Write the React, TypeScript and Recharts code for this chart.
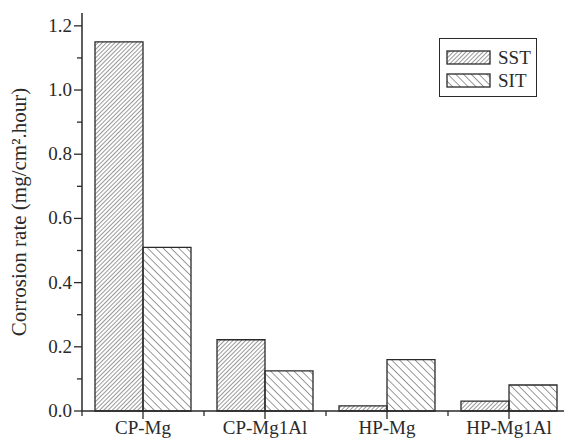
import { BarChart, Bar, XAxis, YAxis } from "recharts";

const SAMPLES = ["CP-Mg", "CP-Mg1Al", "HP-Mg", "HP-Mg1Al"];
const SST = [1.15, 0.222, 0.016, 0.031];
const SIT = [0.51, 0.125, 0.16, 0.081];
const Y_TICKS = [0, 0.1, 0.2, 0.3, 0.4, 0.5, 0.6, 0.7, 0.8, 0.9, 1.0, 1.1, 1.2];
const Y_LABELED = [0, 0.2, 0.4, 0.6, 0.8, 1.0, 1.2];

const FONT = "'Liberation Serif', 'Times New Roman', serif";
const INK = "#2a2a2a";

const data = SAMPLES.map((name, i) => ({ name, SST: SST[i], SIT: SIT[i] }));

function YTick({ x, y, payload }: any) {
  const major = Y_LABELED.some((v) => Math.abs(v - payload.value) < 1e-6);
  return (
    <g>
      <line x1={x - (major ? 8 : 5)} x2={x} y1={y} y2={y} stroke={INK} strokeWidth={1.3} />
      {major && (
        <text x={x - 10} y={y} dy={6} textAnchor="end" fill={INK} fontSize={19} fontFamily={FONT}>
          {payload.value.toFixed(1)}
        </text>
      )}
    </g>
  );
}

function XTick({ x, y, payload }: any) {
  const half = payload.offset ?? 61;
  return (
    <g>
      <line x1={x} x2={x} y1={y} y2={y + 8} stroke={INK} strokeWidth={1.3} />
      <line x1={x - half} x2={x - half} y1={y} y2={y + 5} stroke={INK} strokeWidth={1.3} />
      <text x={x} y={y + 23} textAnchor="middle" fill={INK} fontSize={19} fontFamily={FONT}>
        {payload.value}
      </text>
    </g>
  );
}

// hatched legend box in the upper right of the plot
function HatchLegend() {
  const items = [
    { label: "SST", fill: "url(#hatchSST)" },
    { label: "SIT", fill: "url(#hatchSIT)" },
  ];
  return (
    <div
      style={{
        position: "absolute",
        left: 439,
        top: 38,
        border: `1.5px solid ${INK}`,
        width: 98,
        height: 59,
        boxSizing: "border-box",
        padding: "7px 0 0 6px",
        fontFamily: FONT,
        fontSize: 19,
        color: INK,
        background: "#fff",
      }}
    >
      {items.map((it) => (
        <div key={it.label} style={{ display: "flex", alignItems: "center", height: 23 }}>
          <svg width={46} height={15} style={{ display: "block" }}>
            <rect x={1} y={1} width={43} height={13} fill={it.fill} stroke={INK} strokeWidth={1.3} />
          </svg>
          <span style={{ marginLeft: 6, lineHeight: "19px" }}>{it.label}</span>
        </div>
      ))}
    </div>
  );
}

export default function App() {
  return (
    <div style={{ position: "absolute", left: 0, top: 0, width: 564, height: 439, overflow: "hidden", background: "#fff" }}>
      <BarChart
        width={575}
        height={439}
        data={data}
        margin={{ top: 13, right: 5, bottom: 0, left: 0 }}
        barCategoryGap={13}
        barGap={0}
      >
        <defs>
          <pattern id="hatchSST" patternUnits="userSpaceOnUse" width={3} height={3} patternTransform="rotate(45)">
            <line x1={0} y1={0} x2={0} y2={3} stroke="#333" strokeWidth={1} />
          </pattern>
          <pattern id="hatchSIT" patternUnits="userSpaceOnUse" width={5.5} height={5.5} patternTransform="rotate(-45)">
            <line x1={0} y1={0} x2={0} y2={5.5} stroke="#333" strokeWidth={1} />
          </pattern>
        </defs>
        <XAxis
          dataKey="name"
          height={28}
          axisLine={{ stroke: INK, strokeWidth: 1.5 }}
          tickLine={false}
          tickSize={0}
          tickMargin={0}
          tick={<XTick />}
          interval={0}
        />
        <XAxis
          xAxisId="top"
          orientation="top"
          dataKey="name"
          height={0}
          tick={false}
          tickLine={false}
          axisLine={{ stroke: INK, strokeWidth: 1.5 }}
        />
        <YAxis
          width={82}
          domain={[0, 1.24]}
          ticks={Y_TICKS}
          interval={0}
          axisLine={{ stroke: INK, strokeWidth: 1.5 }}
          tickLine={false}
          tickSize={0}
          tickMargin={0}
          tick={<YTick />}
          label={{
            value: "Corrosion rate (mg/cm².hour)",
            angle: -90,
            position: "insideLeft",
            offset: 19,
            style: { textAnchor: "middle", fontSize: 21, fontFamily: FONT, fill: INK },
          }}
        />
        <YAxis
          yAxisId="right"
          orientation="right"
          width={0}
          domain={[0, 1.24]}
          tick={false}
          tickLine={false}
          axisLine={{ stroke: INK, strokeWidth: 1.5 }}
        />
        <Bar dataKey="SST" fill="url(#hatchSST)" stroke={INK} strokeWidth={1.3} isAnimationActive={false} />
        <Bar dataKey="SIT" fill="url(#hatchSIT)" stroke={INK} strokeWidth={1.3} isAnimationActive={false} />
      </BarChart>
      <HatchLegend />
    </div>
  );
}
